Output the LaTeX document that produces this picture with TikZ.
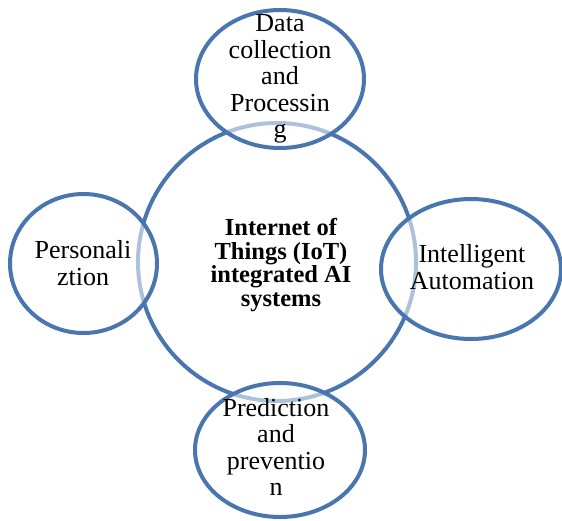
\documentclass[tikz,border=0pt]{standalone}
\usepackage{fontspec}
\setmainfont{Liberation Serif}
\usetikzlibrary{positioning}
\definecolor{ringblue}{RGB}{74,118,175}
\tikzstyle{ring}   =[draw=ringblue, line width=4pt]
\tikzstyle{petal}  =[ring, fill=white, fill opacity=0.55]
\tikzstyle{caption}=[align=center, inner sep=0pt,
                     font=\fontsize{26}{26.5}\selectfont]
\tikzstyle{hub}    =[align=center, inner sep=0pt,
                     font=\fontsize{24.5}{23.5}\selectfont\bfseries]
\begin{document}
\begin{tikzpicture}[x=1pt, y=-1pt]
            \useasboundingbox (0,0) rectangle (562,520);
            \begin{scope}
                \coordinate (hubc) at (277,262);
                \coordinate (datac) at (280,79);
                \coordinate (persc) at (83.5,263.5);
                \coordinate (autoc) at (471,269);
                \coordinate (predc) at (280,450);
                \draw[ring] (hubc) circle [radius=139pt];
                \draw[petal] (datac) ellipse [x radius=84pt, y radius=69pt];
                \draw[petal] (persc) ellipse [x radius=73.5pt, y radius=69.5pt];
                \draw[petal] (autoc) ellipse [x radius=90pt, y radius=70pt];
                \draw[petal] (predc) ellipse [x radius=85pt, y radius=67pt];
                \node[hub] (hub) at (281,265) {Internet of\\Things (IoT)\\integrated AI\\systems};
                \node[caption] (data) at (280,79) {Data\\collection\\and\\Processin\\g};
                \node[caption] (pers) at (83,263) {Personali\\ztion};
                \node[caption] (auto) at (472,267) {Intelligent\\Automation};
                \node[caption] (pred) at (276,447) {Prediction\\and\\preventio\\n};
            \end{scope}
        \end{tikzpicture}
\end{document}
